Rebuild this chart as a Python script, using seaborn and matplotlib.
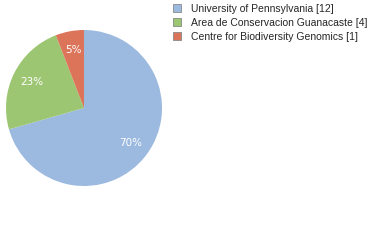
import math
import matplotlib
matplotlib.use("Agg")
import matplotlib.pyplot as plt
from matplotlib.patches import Patch
import seaborn as sns

institutions = ["University of Pennsylvania", "Area de Conservacion Guanacaste", "Centre for Biodiversity Genomics"]
counts = [12, 4, 1]
colors = ["#9cb9df", "#9dc672", "#dc7459"]

sns.set_style("white")
plt.rcParams['font.family'] = ['Liberation Sans', 'DejaVu Sans']

fig = plt.figure(figsize=(3.8, 2.4), dpi=100)
cx, cy, r = 84, 108, 78
ax = fig.add_axes([(cx - r) / 380, (240 - cy - r) / 240, 2 * r / 380, 2 * r / 240])

wedges, texts, autotexts = ax.pie(
    counts, colors=colors, startangle=90, counterclock=False,
    autopct=lambda p: f"{int(math.floor(p))}%", pctdistance=0.75,
    wedgeprops=dict(linewidth=0),
    textprops=dict(color="white", fontsize=7.5, family=['DejaVu Sans']),
)
ax.set_aspect("auto")
ax.set_xlim(-1, 1)
ax.set_ylim(-1, 1)

handles = [Patch(facecolor=c, edgecolor="#888888", linewidth=0.6) for c in colors]
labels = [f"{n} [{c}]" for n, c in zip(institutions, counts)]
fig.legend(handles, labels, loc="upper left", bbox_to_anchor=(173 / 380, 1 - 4 / 240),
           frameon=False, fontsize=7.5, handlelength=0.77, handleheight=0.77,
           handletextpad=1.0, labelspacing=0.38, borderaxespad=0, borderpad=0)

fig.savefig("out.png", dpi=100)
